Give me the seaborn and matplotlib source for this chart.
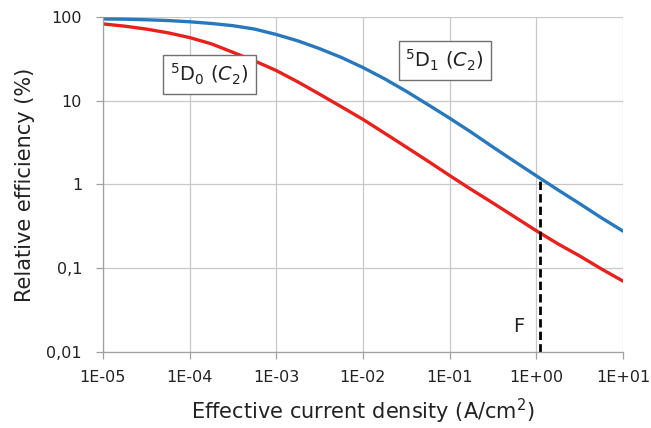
import numpy as np
import pandas as pd
import matplotlib
matplotlib.use("Agg")
import matplotlib.pyplot as plt
import seaborn as sns

# Data (current density in A/cm2, efficiency in %)
current = [1e-5, 1.78e-5, 3.16e-5, 5.62e-5, 1e-4, 1.78e-4, 3.16e-4, 5.62e-4,
           1e-3, 1.78e-3, 3.16e-3, 5.62e-3, 1e-2, 1.78e-2, 3.16e-2, 5.62e-2,
           1e-1, 1.78e-1, 3.16e-1, 5.62e-1, 1.0, 1.78, 3.16, 5.62, 10.0]
eff_5D1 = [95, 94.5, 93, 91, 88, 84, 79, 72, 62, 52, 42, 33, 25, 18.3, 13,
           9.0, 6.2, 4.2, 2.8, 1.88, 1.27, 0.86, 0.59, 0.40, 0.277]
eff_5D0 = [83, 78, 72, 65, 57, 48, 38, 30, 23, 16.8, 12, 8.5, 6.0, 4.1, 2.8,
           1.9, 1.28, 0.87, 0.6, 0.41, 0.28, 0.195, 0.14, 0.098, 0.07]

x_ticks = [1e-5, 1e-4, 1e-3, 1e-2, 1e-1, 1e0, 1e1]
x_tick_labels = ["1E-05", "1E-04", "1E-03", "1E-02", "1E-01", "1E+00", "1E+01"]
y_ticks = [0.01, 0.1, 1, 10, 100]
y_tick_labels = ["0,01", "0,1", "1", "10", "100"]

f_x = 1.1
f_top = 1.2

sns.set_theme(style="white")
plt.rcParams["font.family"] = ["DejaVu Sans"]
plt.rcParams["mathtext.fontset"] = "dejavusans"

df = pd.DataFrame({
    "current": current * 2,
    "eff": eff_5D1 + eff_5D0,
    "series": ["5D1"] * len(current) + ["5D0"] * len(current),
})

fig = plt.figure(figsize=(6.51, 4.28), dpi=100)
ax = fig.add_axes([0.158, 0.178, 0.799, 0.782])

sns.lineplot(data=df, x="current", y="eff", hue="series",
             palette={"5D1": "#2878bd", "5D0": "#e8211d"},
             linewidth=2.4, legend=False, ax=ax)

ax.set_xscale("log")
ax.set_yscale("log")
ax.set_xlim(1e-5, 10)
ax.set_ylim(0.01, 100)

ax.set_xticks(x_ticks)
ax.set_xticklabels(x_tick_labels)
ax.set_yticks(y_ticks)
ax.set_yticklabels(y_tick_labels)
ax.minorticks_off()

ax.grid(True, color="#c8c8c8", linewidth=0.9)
for s in ["top", "right"]:
    ax.spines[s].set_visible(False)
for s in ["left", "bottom"]:
    ax.spines[s].set_color("#a0a0a0")
    ax.spines[s].set_linewidth(0.9)

ax.tick_params(axis="both", which="major", length=5, width=0.9, color="#a0a0a0",
               labelsize=11.5, labelcolor="#222222", direction="out",
               bottom=True, left=True)
ax.tick_params(axis="y", pad=10)
ax.tick_params(axis="x", pad=8)

ax.set_xlabel("Effective current density (A/cm$^2$)", fontsize=15, color="#222222")
ax.set_ylabel("Relative efficiency (%)", fontsize=15, color="#222222")
ax.xaxis.set_label_coords(0.5, -0.135)
ax.yaxis.set_label_coords(-0.131, 0.5)

ax.plot([f_x, f_x], [0.01, f_top], color="black", linestyle=(0, (3, 1.5)), linewidth=2)
ax.text(0.62, 0.02, "F", fontsize=14, color="#222222", ha="center", va="center")

box = dict(boxstyle="square,pad=0.35", facecolor="white", edgecolor="#707070", linewidth=1)
ax.text(10**-3.77, 20.5, r"$^{5}$D$_{0}$ ($\mathit{C}_{2}$)", fontsize=14, color="#222222",
        ha="center", va="center", bbox=box)
ax.text(10**-1.057, 30, r"$^{5}$D$_{1}$ ($\mathit{C}_{2}$)", fontsize=14, color="#222222",
        ha="center", va="center", bbox=box)

fig.savefig("out.png", dpi=100)
